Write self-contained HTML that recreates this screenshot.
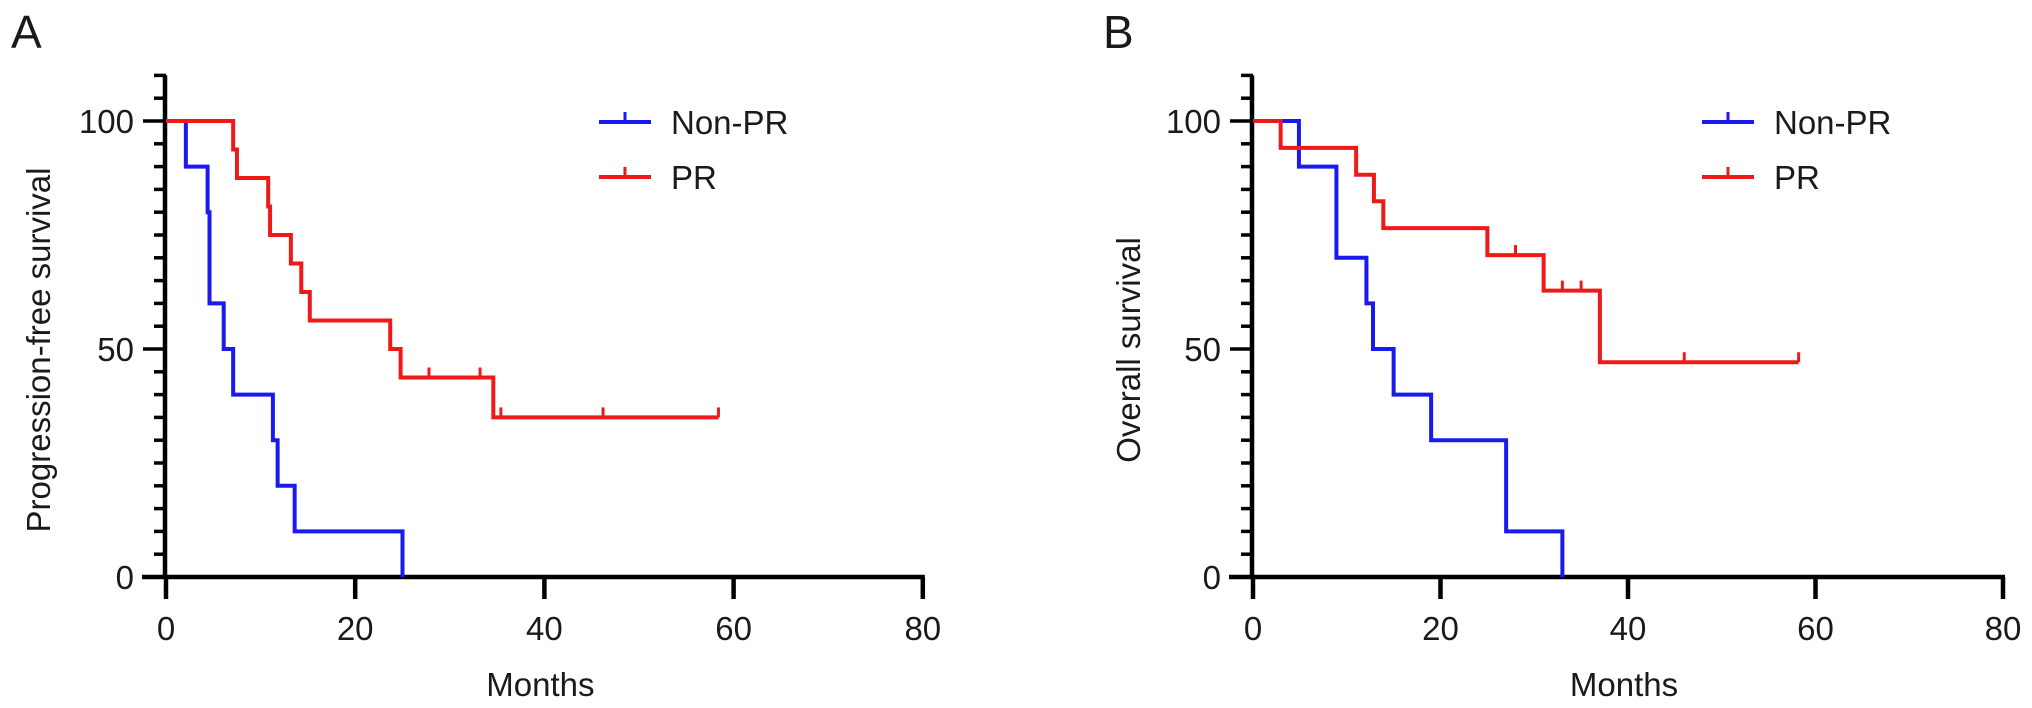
<!DOCTYPE html>
<html><head><meta charset="utf-8"><style>
html,body{margin:0;padding:0;background:#fff}
svg{display:block}
text{font-family:"Liberation Sans",Arial,sans-serif;fill:#1a1a1a}
</style></head><body>
<svg id="fig" width="2032" height="708" viewBox="0 0 2032 708" xmlns="http://www.w3.org/2000/svg"></svg>
<script>
// Panel A data (Progression-free survival)
const pfsNonPRTimes = [2.1, 4.4, 4.6, 6.1, 7.1, 11.3, 11.8, 13.6, 25];
const pfsNonPRValues = [90, 80, 60, 50, 40, 30, 20, 10, 0];
const pfsNonPRCensor = [];
const pfsPRTimes = [7.1, 7.5, 10.8, 11.0, 13.2, 14.3, 15.2, 23.7, 24.8, 34.6];
const pfsPRValues = [93.75, 87.5, 81.25, 75, 68.75, 62.5, 56.25, 50, 43.75, 35];
const pfsPRCensor = [27.8, 33.2, 35.4, 46.2, 58.4];
const pfsPREnd = 58.4;
const pfsNonPREnd = 25;
// Panel B data (Overall survival)
const osNonPRTimes = [4.9, 8.9, 12.1, 12.8, 15, 19, 27, 33];
const osNonPRValues = [90, 70, 60, 50, 40, 30, 10, 0];
const osNonPRCensor = [];
const osPRTimes = [2.95, 11, 12.9, 13.9, 25, 31, 37];
const osPRValues = [94.1, 88.2, 82.4, 76.5, 70.6, 62.8, 47.1];
const osPRCensor = [28, 33, 35, 46, 58.2];
const osPREnd = 58.2;
const osNonPREnd = 33;
const xTicks = [0, 20, 40, 60, 80];
const yTicks = [0, 50, 100];

const NS = 'http://www.w3.org/2000/svg';
const svg = document.getElementById('fig');
function mk(tag, attrs, parent) {
  const e = document.createElementNS(NS, tag);
  for (const k in attrs) e.setAttribute(k, attrs[k]);
  (parent || svg).appendChild(e);
  return e;
}

function panel(cfg) {
  const g = mk('g', {});
  
  
  const xs = m => cfg.x0 + m * cfg.pxm;
  const ys = v => cfg.y0 - v * (cfg.y0 - cfg.y100) / 100;
  const L = mk('text', {x: cfg.letterX, y: 48, 'font-size': 46}, g);
  L.textContent = cfg.letter;
  
  
  const ya = mk('g', {}, g);
  
  
  mk('line', {x1: cfg.x0 - 1, x2: cfg.x0 - 1, y1: ys(110), y2: ys(0) + 2, stroke: '#000', 'stroke-width': 4.5}, ya);
  for (let v = 0; v <= 110; v += 5) {
    const major = v % 50 === 0;
    mk('line', {x1: cfg.x0 - (major ? 23 : 12), x2: cfg.x0, y1: ys(v), y2: ys(v), stroke: '#000', 'stroke-width': 3.5}, ya);
  }
  yTicks.forEach(v => {
    const t = mk('text', {x: cfg.x0 - 32, y: ys(v) + 12, 'font-size': 33, 'text-anchor': 'end'}, ya);
    t.textContent = v;
    
    
  });
  const yl = mk('text', {x: 0, y: 0, 'font-size': 33, 'text-anchor': 'middle', transform: `translate(${cfg.ylabX},${350}) rotate(-90)`}, g);
  yl.textContent = cfg.ylabel;
  
  
  const xa = mk('g', {}, g);
  
  
  mk('line', {x1: cfg.x0 - 24, x2: xs(80) + 2, y1: ys(0), y2: ys(0), stroke: '#000', 'stroke-width': 4.5}, xa);
  xTicks.forEach(m => {
    mk('line', {x1: xs(m), x2: xs(m), y1: ys(0), y2: ys(0) + 22, stroke: '#000', 'stroke-width': 4.5}, xa);
    const t = mk('text', {x: xs(m), y: 640, 'font-size': 33, 'text-anchor': 'middle'}, xa);
    t.textContent = m;
    
    
  });
  const xl = mk('text', {x: xs(40) - 4, y: 696, 'font-size': 33, 'text-anchor': 'middle'}, g);
  xl.textContent = 'Months';
  
  
  function curve(times, vals, end, censor, color, name) {
    let d = `M${xs(0)},${ys(100)}`;
    times.forEach((t, i) => {
      d += ` H${xs(t)} V${ys(vals[i])}`;
    });
    d += ` H${xs(end)}`;
    const p = mk('path', {d: d, fill: 'none', stroke: color, 'stroke-width': 4}, g);
    
    
    censor.forEach(c => {
      let v = 100;
      times.forEach((t, i) => { if (t <= c) v = vals[i]; });
      const cm = mk('line', {x1: xs(c), x2: xs(c), y1: ys(v), y2: ys(v) - 10, stroke: color, 'stroke-width': 3}, g);
      
      
    });
  }
  curve(cfg.nTimes, cfg.nVals, cfg.nEnd, cfg.nCensor, '#1a1aee', 'non-pr-curve');
  curve(cfg.pTimes, cfg.pVals, cfg.pEnd, cfg.pCensor, '#ee1a1a', 'pr-curve');
  const lg = mk('g', {}, g);
  
  
  [['Non-PR', '#1a1aee', 122], ['PR', '#ee1a1a', 177]].forEach(([lab, col, y]) => {
    const e = mk('g', {}, lg);
    
    
    mk('line', {x1: cfg.legX, x2: cfg.legX + 52, y1: y, y2: y, stroke: col, 'stroke-width': 4}, e);
    mk('line', {x1: cfg.legX + 26, x2: cfg.legX + 26, y1: y, y2: y - 10, stroke: col, 'stroke-width': 3}, e);
    const t = mk('text', {x: cfg.legX + 72, y: y + 12, 'font-size': 33}, e);
    t.textContent = lab;
  });
}

panel({name: 'panel-a-pfs', letter: 'A', letterX: 11, x0: 166, pxm: 9.46, y0: 577, y100: 121, ylabX: 50,
  ylabel: 'Progression-free survival', legX: 599,
  nTimes: pfsNonPRTimes, nVals: pfsNonPRValues, nEnd: pfsNonPREnd, nCensor: pfsNonPRCensor,
  pTimes: pfsPRTimes, pVals: pfsPRValues, pEnd: pfsPREnd, pCensor: pfsPRCensor});
panel({name: 'panel-b-os', letter: 'B', letterX: 1103, x0: 1253, pxm: 9.375, y0: 577, y100: 121, ylabX: 1140,
  ylabel: 'Overall survival', legX: 1702,
  nTimes: osNonPRTimes, nVals: osNonPRValues, nEnd: osNonPREnd, nCensor: osNonPRCensor,
  pTimes: osPRTimes, pVals: osPRValues, pEnd: osPREnd, pCensor: osPRCensor});
</script>
</body></html>
